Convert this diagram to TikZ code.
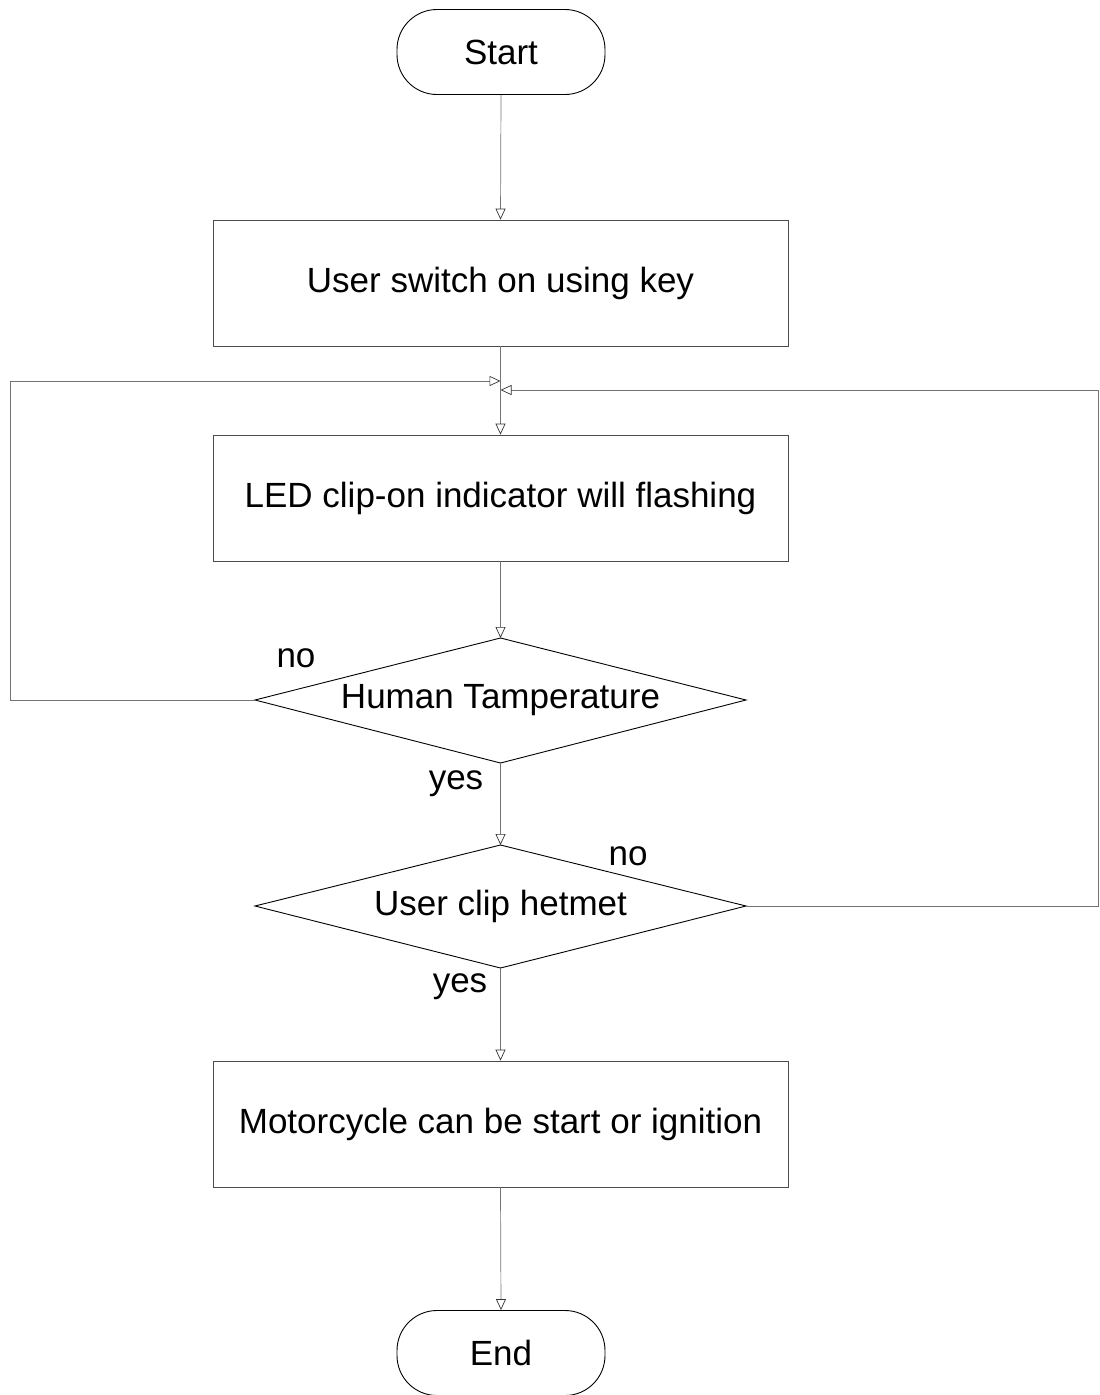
\documentclass[tikz,border=0pt]{standalone}
\usepackage{fontspec}
\setmainfont{Liberation Sans}
\usetikzlibrary{arrows.meta,shapes.geometric}
\begin{document}
\begin{tikzpicture}[x=1pt,y=-1pt,
  lbl/.style={font=\fontsize{35}{42}\selectfont},
  term/.style={draw=black, line width=0.9pt, rounded corners=40pt, minimum width=208pt, minimum height=85pt, inner sep=0pt, lbl},
  procbox/.style={draw=black!70, line width=0.8pt, minimum width=575pt, minimum height=126pt, inner sep=0pt, lbl},
  decis/.style={diamond, aspect=3.93, minimum width=491pt, minimum height=125pt, inner sep=0pt, lbl},
  conn/.style={draw=black!55, line width=0.7pt, -{Triangle[open, length=11pt, width=10pt, color=black!80]}}]
\useasboundingbox (0,0) rectangle (1100,1395);
\node[term] (start) at (501,52) {Start};
\node[procbox] (b1) at (500.5,283) {User switch on using key};
\node[procbox] (b2) at (500.5,498) {LED clip-on indicator will flashing};
\node[decis] (d1) at (500.5,700) {Human Tamperature};
\draw[line width=0.9pt] (255,700) -- (500.5,638) -- (746,700) -- (500.5,763) -- cycle;
\node[decis] (d2) at (500.5,906) {User clip hetmet};
\draw[line width=0.9pt] (255,906) -- (500.5,845) -- (746,906) -- (500.5,968) -- cycle;
\node[procbox] (b3) at (500.5,1124) {Motorcycle can be start or ignition};
\node[term] (endn) at (501,1353) {End};
\coordinate (m1) at (500.5,381);
\coordinate (m2) at (500.5,390);
\coordinate (d1l) at (255,700);
\coordinate (d2r) at (746,906);
\coordinate (d1t) at (500.5,638);
\coordinate (d1b) at (500.5,763);
\coordinate (d2t) at (500.5,845);
\coordinate (d2b) at (500.5,968);
\draw[conn] (start.south) -- (b1.north);
\draw[conn] (b1.south) -- (b2.north);
\draw[conn] (b2.south) -- (d1t);
\draw[conn] (d1b) -- (d2t);
\draw[conn] (d2b) -- (b3.north);
\draw[conn] (b3.south) -- (endn.north);
\draw[conn] (d1l) -- (10,700) -- (10,381) -- (m1);
\draw[conn] (d2r) -- (1098,906) -- (1098,390) -- (m2);
\node[lbl] (no1) at (296,658) {no};
\node[lbl] (yes1) at (456,784) {yes};
\node[lbl] (no2) at (628,856) {no};
\node[lbl] (yes2) at (460,987) {yes};
\end{tikzpicture}
\end{document}
